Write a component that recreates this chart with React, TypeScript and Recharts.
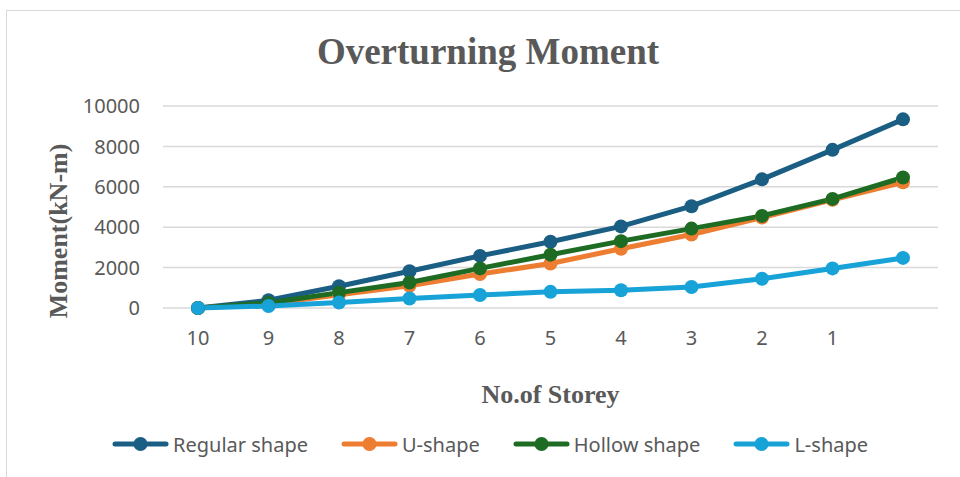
import { LineChart, Line, XAxis, YAxis, CartesianGrid, Legend, Label } from "recharts";

const storeys = ["10", "9", "8", "7", "6", "5", "4", "3", "2", "1", ""];
const regularShape = [0, 380, 1080, 1820, 2580, 3280, 4040, 5040, 6370, 7830, 9340];
const uShape = [0, 200, 650, 1100, 1680, 2200, 2930, 3640, 4480, 5360, 6220];
const hollowShape = [0, 250, 760, 1260, 1960, 2640, 3310, 3930, 4560, 5400, 6460];
const lShape = [0, 100, 270, 470, 640, 800, 880, 1040, 1450, 1960, 2480];
const yTicks = [0, 2000, 4000, 6000, 8000, 10000];

const series = [
    { key: "regular", name: "Regular shape", color: "#1B5E83" },
    { key: "u", name: "U-shape", color: "#ED7D31" },
    { key: "hollow", name: "Hollow shape", color: "#1E6B23" },
    { key: "l", name: "L-shape", color: "#17A2D8" },
];

const data = storeys.map((s, i) => ({
    storey: s,
    regular: regularShape[i],
    u: uShape[i],
    hollow: hollowShape[i],
    l: lShape[i],
}));

const textColor = "#595959";
const sans = "'Noto Sans', sans-serif";
const serif = "'Liberation Serif', 'Times New Roman', serif";

function LegendContent() {
    return (
        <div
            style={{
                display: "flex",
                alignItems: "center",
                height: 40,
                paddingTop: 4,
                paddingLeft: 112,
                boxSizing: "border-box",
                fontFamily: sans,
                fontSize: 20,
                color: textColor,
            }}
        >
            {series.map((s) => (
                <div key={s.key} style={{ display: "flex", alignItems: "center", marginRight: 33 }}>
                    <svg width={57} height={16} style={{ marginRight: 4 }}>
                        <line x1={3} y1={8} x2={54} y2={8} stroke={s.color} strokeWidth={5} strokeLinecap="round" />
                        <circle cx={28.5} cy={8} r={7} fill={s.color} />
                    </svg>
                    <span>{s.name}</span>
                </div>
            ))}
        </div>
    );
}

function YLabel(props: any) {
    const vb = props.viewBox;
    const cx = vb.x + 58;
    const cy = vb.y + vb.height / 2 + 24;
    return (
        <text
            x={cx}
            y={cy}
            transform={`rotate(-90, ${cx}, ${cy})`}
            textAnchor="middle"
            dominantBaseline="central"
            fill={textColor}
            fontFamily={serif}
            fontWeight="bold"
            fontSize={26}
        >
            Moment(kN-m)
        </text>
    );
}

export default function App() {
    return (
        <div
            style={{
                position: "absolute",
                left: 0,
                top: 0,
                width: 960,
                height: 477,
                overflow: "hidden",
                background: "#fff",
            }}
        >
            <div
                style={{
                    position: "absolute",
                    left: 6,
                    top: 10,
                    width: 1000,
                    height: 500,
                    border: "1px solid #d9d9d9",
                }}
            />
            <div
                style={{
                    position: "absolute",
                    left: 0,
                    top: 30,
                    width: 976,
                    textAlign: "center",
                    fontFamily: serif,
                    fontWeight: "bold",
                    fontSize: 37,
                    lineHeight: "44px",
                    color: textColor,
                }}
            >
                Overturning Moment
            </div>
            <div style={{ position: "absolute", left: 0, top: 0 }}>
                <LineChart
                    width={960}
                    height={477}
                    data={data}
                    margin={{ top: 106, right: 22, bottom: 15, left: 0 }}
                >
                    <CartesianGrid vertical={false} stroke="#d9d9d9" strokeWidth={1.5} />
                    <XAxis
                        dataKey="storey"
                        height={114}
                        padding={{ left: 35, right: 35 }}
                        axisLine={false}
                        tickLine={false}
                        tickSize={0}
                        tickMargin={23}
                        interval={0}
                        tick={{ fill: textColor, fontFamily: sans, fontSize: 20 }}
                    >
                        <Label
                            value="No.of Storey"
                            position="insideBottom"
                            offset={19}
                            fill={textColor}
                            fontFamily={serif}
                            fontWeight="bold"
                            fontSize={26}
                        />
                    </XAxis>
                    <YAxis
                        width={163}
                        domain={[0, 10000]}
                        ticks={yTicks}
                        axisLine={false}
                        tickLine={false}
                        tickSize={0}
                        tickMargin={23}
                        tick={{ fill: textColor, fontFamily: sans, fontSize: 20 }}
                    >
                        <Label content={<YLabel />} />
                    </YAxis>
                    <Legend verticalAlign="bottom" content={<LegendContent />} wrapperStyle={{ left: 0, width: 960 }} />
                    {series.map((s) => (
                        <Line
                            key={s.key}
                            dataKey={s.key}
                            name={s.name}
                            stroke={s.color}
                            strokeWidth={5}
                            dot={{ r: 7, fill: s.color, stroke: s.color, strokeWidth: 0 }}
                            activeDot={false}
                            isAnimationActive={false}
                        />
                    ))}
                </LineChart>
            </div>
        </div>
    );
}
